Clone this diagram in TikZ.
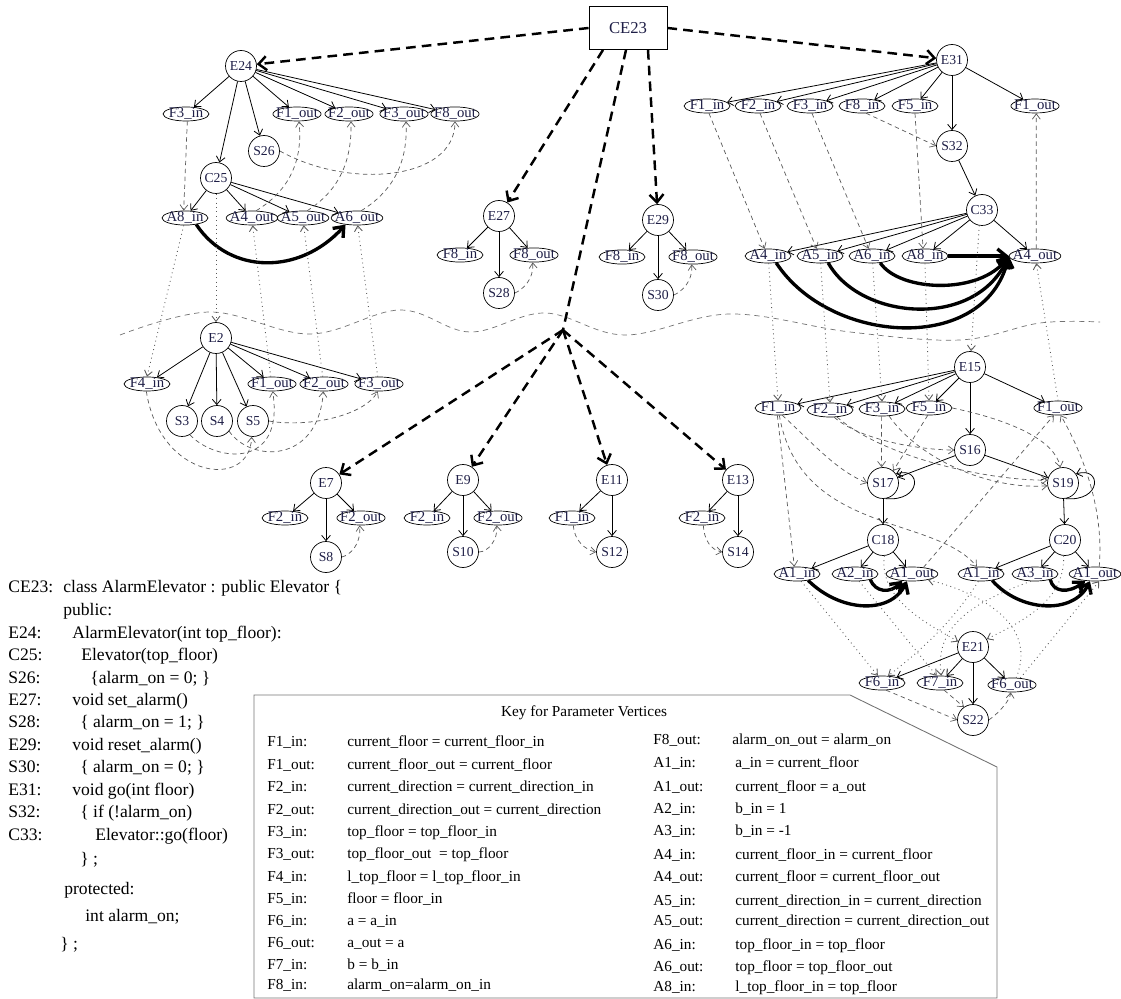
\documentclass[tikz,border=0pt]{standalone}
\usepackage{fontspec}
\setmainfont{Liberation Serif}
\tikzset{>=latex}
\usetikzlibrary{arrows.meta,shapes.geometric}
\definecolor{ink}{RGB}{30,30,70}

\begin{document}
\begin{tikzpicture}[x=0.02cm, y=-0.02cm,
  vert/.style={circle, draw, line width=0.4pt, minimum size=0.62cm, inner sep=0pt, text=ink, font=\fontsize{7.8}{8}\selectfont},
  parm/.style={ellipse, draw, line width=0.4pt, minimum width=0.92cm, minimum height=0.28cm, inner xsep=-2.2pt, inner ysep=-0.5pt, text=ink, font=\fontsize{8.4}{8.4}\selectfont},
  ctrlarc/.style={line width=0.45pt, -{Straight Barb[length=3pt,width=5pt]}},
  flowarc/.style={line width=0.4pt, dash pattern=on 2.5pt off 2pt, black!65, -{Straight Barb[length=3pt,width=4.5pt]}},
  callarc/.style={line width=0.5pt, dotted, black!65, -{Straight Barb[length=3pt,width=4.5pt]}},
  summarc/.style={line width=1.9pt, -{Straight Barb[length=5pt,width=8pt]}},
  membarc/.style={line width=1.4pt, dash pattern=on 5.5pt off 3.5pt, -{Straight Barb[length=4.5pt,width=8pt]}},
  codeline/.style={anchor=base west, inner sep=0pt, font=\fontsize{10}{10}\selectfont},
  keytxt/.style={anchor=base west, inner sep=0pt, font=\fontsize{8.7}{8.7}\selectfont}]

% Zone de dessin en pixels de l'image (y vers le bas).
% Drawing area in image pixels (y pointing down).
\useasboundingbox (0,0) rectangle (1121,999);

% Ligne ondulée / wavy separation line
\draw[line width=0.4pt, black!55, dash pattern=on 3pt off 2.5pt] plot[smooth, tension=0.6] coordinates {(120,335) (210,312) (310,334) (400,310) (470,332) (545,313) (625,335) (730,314) (850,332) (960,340) (1040,323) (1100,322)};

% Sommet de classe / class entry vertex
\node[draw, line width=0.5pt, minimum width=1.56cm, minimum height=0.86cm, text=ink, font=\fontsize{9.5}{9.5}\selectfont] (ce23) at (628,28) {CE23};
\coordinate (fork) at (563,330);

% Constructeur E24 / constructor E24
\node[vert] (e24) at (241,66) {E24};
\node[parm] (e24f3in) at (186,114) {F3\_in};
\node[parm] (e24f1out) at (297,114) {F1\_out};
\node[parm] (e24f2out) at (349,114) {F2\_out};
\node[parm] (e24f3out) at (404,114) {F3\_out};
\node[parm] (e24f8out) at (455,114) {F8\_out};
\node[vert] (s26) at (264,151) {S26};
\node[vert] (c25) at (216,178) {C25};
\node[parm] (c25a8in) at (185,218) {A8\_in};
\node[parm] (c25a4out) at (252,218) {A4\_out};
\node[parm] (c25a5out) at (303,218) {A5\_out};
\node[parm] (c25a6out) at (357,218) {A6\_out};

\draw[ctrlarc] (e24) -- (e24f3in);
\draw[ctrlarc] (e24) -- (c25);
\draw[ctrlarc] (e24) -- (s26);
\draw[ctrlarc] (e24) -- (e24f1out);
\draw[ctrlarc] (e24) -- (e24f2out);
\draw[ctrlarc] (e24) -- (e24f3out);
\draw[ctrlarc] (e24) -- (e24f8out);
\draw[ctrlarc] (c25) -- (c25a8in);
\draw[ctrlarc] (c25) -- (c25a4out);
\draw[ctrlarc] (c25) -- (c25a5out);
\draw[ctrlarc] (c25) -- (c25a6out);
\draw[flowarc] (e24f3in.-80) -- (c25a8in.100);
\draw[flowarc] (s26.east) .. controls (350,190) and (455,180) .. (e24f8out.south);
\draw[flowarc] (c25a4out.60) .. controls (290,190) and (303,160) .. (e24f1out.-75);
\draw[flowarc] (c25a5out.60) .. controls (340,190) and (352,160) .. (e24f2out.-75);
\draw[flowarc] (c25a6out.60) .. controls (395,190) and (408,160) .. (e24f3out.-75);
\draw[summarc] (c25a8in.-30) .. controls (230,275) and (300,275) .. (c25a6out.-150);

% Procédure E2 / procedure E2
\node[vert] (e2) at (216,338) {E2};
\node[parm] (e2f4in) at (147,384) {F4\_in};
\node[parm] (e2f1out) at (272,384) {F1\_out};
\node[parm] (e2f2out) at (324,384) {F2\_out};
\node[parm] (e2f3out) at (379,384) {F3\_out};
\node[vert] (s3) at (182,421) {S3};
\node[vert] (s4) at (217,421) {S4};
\node[vert] (s5) at (253,421) {S5};

\draw[ctrlarc] (e2) -- (e2f4in);
\draw[ctrlarc] (e2) -- (s3);
\draw[ctrlarc] (e2) -- (s4);
\draw[ctrlarc] (e2) -- (s5);
\draw[ctrlarc] (e2) -- (e2f1out);
\draw[ctrlarc] (e2) -- (e2f2out);
\draw[ctrlarc] (e2) -- (e2f3out);
\draw[flowarc] (s5.east) .. controls (310,428) and (365,415) .. (e2f3out.-100);
\draw[flowarc] (s3.-60) .. controls (215,462) and (285,470) .. (e2f1out.-85);
\draw[flowarc] (s4.-40) .. controls (250,462) and (318,465) .. (e2f2out.-95);
\draw[flowarc] (e2f4in.-95) .. controls (160,480) and (250,490) .. (s5.-95);

\draw[callarc] (c25) -- (e2);
\draw[callarc] (c25a8in.-100) -- (e2f4in.north);
\draw[callarc] (e2f1out.100) -- (c25a4out.-85);
\draw[callarc] (e2f2out.100) -- (c25a5out.-85);
\draw[callarc] (e2f3out.100) -- (c25a6out.-85);

% Méthodes E27 et E29 / methods E27 and E29
\node[vert] (e27) at (499,216) {E27};
\node[parm] (e27f8in) at (460,255) {F8\_in};
\node[parm] (e27f8out) at (534,255) {F8\_out};
\node[vert] (s28) at (499,293) {S28};
\draw[ctrlarc] (e27) -- (e27f8in);
\draw[ctrlarc] (e27) -- (s28);
\draw[ctrlarc] (e27) -- (e27f8out);
\draw[flowarc] (s28.east) .. controls (522,290) and (534,280) .. (e27f8out.-100);

\node[vert] (e29) at (658,220) {E29};
\node[parm] (e29f8in) at (622,257) {F8\_in};
\node[parm] (e29f8out) at (693,257) {F8\_out};
\node[vert] (s30) at (658,295) {S30};
\draw[ctrlarc] (e29) -- (e29f8in);
\draw[ctrlarc] (e29) -- (s30);
\draw[ctrlarc] (e29) -- (e29f8out);
\draw[flowarc] (s30.east) .. controls (681,292) and (693,282) .. (e29f8out.-100);

% Méthodes héritées / inherited methods
\node[vert] (e7) at (326,483) {E7};
\node[parm] (e7f2in) at (285,518) {F2\_in};
\node[parm] (e7f2out) at (361,518) {F2\_out};
\node[vert] (s8) at (326,557) {S8};
\draw[ctrlarc] (e7) -- (e7f2in);
\draw[ctrlarc] (e7) -- (s8);
\draw[ctrlarc] (e7) -- (e7f2out);
\draw[flowarc] (s8.east) .. controls (350,555) and (361,545) .. (e7f2out.-100);

\node[vert] (e9) at (463,480) {E9};
\node[parm] (e9f2in) at (427,518) {F2\_in};
\node[parm] (e9f2out) at (498,518) {F2\_out};
\node[vert] (s10) at (463,552) {S10};
\draw[ctrlarc] (e9) -- (e9f2in);
\draw[ctrlarc] (e9) -- (s10);
\draw[ctrlarc] (e9) -- (e9f2out);
\draw[flowarc] (s10.east) .. controls (488,552) and (498,540) .. (e9f2out.-100);

\node[vert] (e11) at (612,480) {E11};
\node[parm] (e11f1in) at (572,518) {F1\_in};
\node[vert] (s12) at (612,552) {S12};
\draw[ctrlarc] (e11) -- (e11f1in);
\draw[ctrlarc] (e11) -- (s12);
\draw[flowarc] (e11f1in.-80) .. controls (574,540) and (585,550) .. (s12.west);

\node[vert] (e13) at (738,480) {E13};
\node[parm] (e13f2in) at (702,518) {F2\_in};
\node[vert] (s14) at (738,552) {S14};
\draw[ctrlarc] (e13) -- (e13f2in);
\draw[ctrlarc] (e13) -- (s14);
\draw[flowarc] (e13f2in.-80) .. controls (704,540) and (711,550) .. (s14.west);

% Méthode go E31 / method go E31
\node[vert] (e31) at (952,60) {E31};
\node[parm] (e31f1in) at (707,106) {F1\_in};
\node[parm] (e31f2in) at (758,106) {F2\_in};
\node[parm] (e31f3in) at (810,106) {F3\_in};
\node[parm] (e31f8in) at (862,106) {F8\_in};
\node[parm] (e31f5in) at (915,106) {F5\_in};
\node[parm] (e31f1out) at (1035,106) {F1\_out};
\node[vert] (s32) at (952,146) {S32};
\node[vert] (c33) at (982,210) {C33};
\node[parm] (c33a4in) at (768,256) {A4\_in};
\node[parm] (c33a5in) at (820,256) {A5\_in};
\node[parm] (c33a6in) at (872,256) {A6\_in};
\node[parm] (c33a8in) at (925,256) {A8\_in};
\node[parm] (c33a4out) at (1035,256) {A4\_out};

\draw[ctrlarc] (e31) -- (e31f1in);
\draw[ctrlarc] (e31) -- (e31f2in);
\draw[ctrlarc] (e31) -- (e31f3in);
\draw[ctrlarc] (e31) -- (e31f8in);
\draw[ctrlarc] (e31) -- (e31f5in);
\draw[ctrlarc] (e31) -- (s32);
\draw[ctrlarc] (e31) -- (e31f1out);
\draw[ctrlarc] (s32) -- (c33);
\draw[ctrlarc] (c33) -- (c33a4in);
\draw[ctrlarc] (c33) -- (c33a5in);
\draw[ctrlarc] (c33) -- (c33a6in);
\draw[ctrlarc] (c33) -- (c33a8in);
\draw[ctrlarc] (c33) -- (c33a4out);
\draw[flowarc] (e31f1in.-75) -- (c33a4in.115);
\draw[flowarc] (e31f2in.-75) -- (c33a5in.115);
\draw[flowarc] (e31f3in.-75) -- (c33a6in.115);
\draw[flowarc] (e31f5in.south) -- (c33a8in.105);
\draw[flowarc] (e31f8in.-60) -- (s32.west);
\draw[flowarc] (c33a4out.80) -- (e31f1out.-80);
\draw[summarc] (c33a8in.east) -- (c33a4out.west);
\draw[summarc] (c33a6in.-40) .. controls (900,292) and (980,295) .. (c33a4out.west);
\draw[summarc] (c33a5in.-40) .. controls (860,320) and (975,330) .. (c33a4out.west);
\draw[summarc] (c33a4in.-40) .. controls (830,345) and (985,355) .. (c33a4out.west);

% Procédure Elevator::go E15 / procedure Elevator::go E15
\node[vert] (e15) at (970,367) {E15};
\node[parm] (e15f1in) at (778,408) {F1\_in};
\node[parm] (e15f2in) at (830,410) {F2\_in};
\node[parm] (e15f3in) at (882,409) {F3\_in};
\node[parm] (e15f5in) at (929,408) {F5\_in};
\node[parm] (e15f1out) at (1058,408) {F1\_out};
\node[vert] (s16) at (970,450) {S16};
\node[vert] (s17) at (883,483) {S17};
\node[vert] (s19) at (1063,483) {S19};
\node[vert] (c18) at (883,540) {C18};
\node[vert] (c20) at (1065,540) {C20};
\node[parm] (c18a1in) at (797,574) {A1\_in};
\node[parm] (c18a2in) at (855,574) {A2\_in};
\node[parm] (c18a1out) at (912,574) {A1\_out};
\node[parm] (c20a1in) at (981,574) {A1\_in};
\node[parm] (c20a3in) at (1035,574) {A3\_in};
\node[parm] (c20a1out) at (1095,574) {A1\_out};

\draw[ctrlarc] (e15) -- (e15f1in);
\draw[ctrlarc] (e15) -- (e15f2in);
\draw[ctrlarc] (e15) -- (e15f3in);
\draw[ctrlarc] (e15) -- (e15f5in);
\draw[ctrlarc] (e15) -- (s16);
\draw[ctrlarc] (e15) -- (e15f1out);
\draw[ctrlarc] (s16) -- (s17);
\draw[ctrlarc] (s16) -- (s19);
\draw[ctrlarc] (s17.-80) .. controls (922,502) and (922,466) .. (s17.35);
\draw[ctrlarc] (s19.-80) .. controls (1102,502) and (1102,466) .. (s19.35);
\draw[ctrlarc] (s17) -- (c18);
\draw[ctrlarc] (s19) -- (c20);
\draw[ctrlarc] (c18) -- (c18a1in);
\draw[ctrlarc] (c18) -- (c18a2in);
\draw[ctrlarc] (c18) -- (c18a1out);
\draw[ctrlarc] (c20) -- (c20a1in);
\draw[ctrlarc] (c20) -- (c20a3in);
\draw[ctrlarc] (c20) -- (c20a1out);
\draw[flowarc] (e15f1in.-95) -- (c18a1in.110);
\draw[flowarc] (e15f1in.-60) .. controls (810,440) and (835,470) .. (s17.west);
\draw[flowarc] (e15f1in.-80) .. controls (800,535) and (935,515) .. (c20a1in.120);
\draw[flowarc] (e15f2in.-60) .. controls (860,440) and (920,450) .. (s16.west);
\draw[flowarc] (e15f2in.-45) .. controls (880,455) and (980,480) .. (s19.170);
\draw[flowarc] (e15f3in.-95) -- (s17.95);
\draw[flowarc] (e15f3in.-45) .. controls (920,460) and (990,490) .. (s19.190);
\draw[flowarc] (e15f5in.-100) -- (s17.50);
\draw[flowarc] (e15f5in.east) .. controls (1010,420) and (1055,440) .. (s19.100);
\draw[flowarc] (c18a1out.30) -- (e15f1out.-120);
\draw[flowarc] (c20a1out.60) .. controls (1105,500) and (1075,440) .. (e15f1out.-70);
\draw[summarc] (c18a1in.-30) .. controls (840,612) and (890,615) .. (c18a1out.-125);
\draw[summarc] (c18a2in.-20) .. controls (875,592) and (890,594) .. (c18a1out.-145);
\draw[summarc] (c20a1in.-30) .. controls (1020,612) and (1073,615) .. (c20a1out.-125);
\draw[summarc] (c20a3in.-20) .. controls (1053,592) and (1068,594) .. (c20a1out.-145);

% Liens entre les deux / links across
\draw[callarc] (c33.-100) -- (e15);
\draw[callarc] (c33a4in.-85) -- (e15f1in.north);
\draw[callarc] (c33a5in.-85) -- (e15f2in.north);
\draw[callarc] (c33a6in.-85) -- (e15f3in.north);
\draw[callarc] (c33a8in.-90) -- (e15f5in.north);
\draw[callarc] (e15f1out.north) -- (c33a4out.-80);

% Procédure E21 / procedure E21
\node[vert] (e21) at (973,647) {E21};
\node[parm] (e21f6in) at (882,683) {F6\_in};
\node[parm] (e21f7in) at (940,683) {F7\_in};
\node[parm] (e21f6out) at (1012,685) {F6\_out};
\node[vert] (s22) at (973,720) {S22};
\draw[ctrlarc] (e21) -- (e21f6in);
\draw[ctrlarc] (e21) -- (e21f7in);
\draw[ctrlarc] (e21) -- (s22);
\draw[ctrlarc] (e21) -- (e21f6out);
\draw[flowarc] (e21f6in.-60) -- (s22.west);
\draw[flowarc] (e21f7in.-60) -- (s22.125);
\draw[flowarc] (s22.east) .. controls (1000,712) and (1010,700) .. (e21f6out.-100);
\draw[callarc] (c18.-85) .. controls (878,600) and (930,625) .. (e21.160);
\draw[callarc] (c20.-95) .. controls (1065,600) and (1025,620) .. (e21.30);
\draw[callarc] (c18a1in.-60) -- (e21f6in.120);
\draw[callarc] (c20a1in.-110) .. controls (960,610) and (935,640) .. (e21f6in.50);
\draw[callarc] (c18a2in.-60) -- (e21f7in.115);
\draw[callarc] (c20a3in.-120) .. controls (965,605) and (935,630) .. (e21f7in.80);
\draw[callarc] (e21f6out.60) .. controls (1040,620) and (970,590) .. (c18a1out.-20);
\draw[callarc] (e21f6out.40) -- (c20a1out.-60);

% Arcs d'appartenance / membership arcs
\draw[membarc] (ce23.west) -- (e24);
\draw[membarc] (ce23.east) -- (e31);
\draw[membarc] ([xshift=-0.5cm]ce23.south) -- (e27);
\draw[membarc] ([xshift=0.4cm]ce23.south) -- (e29);
\draw[line width=1.4pt, dash pattern=on 5.5pt off 3.5pt] ([xshift=-0.04cm]ce23.south) -- (fork);
\draw[membarc] (fork) -- (e7);
\draw[membarc] (fork) -- (e9);
\draw[membarc] (fork) -- (e11);
\draw[membarc] (fork) -- (e13);

% Code source / source code
\node[codeline] (cl1) at (8,592) {CE23:};
\node[codeline] (ct1) at (63,592) {class AlarmElevator : public Elevator \{};
\node[codeline] (ct2) at (63,615) {public:};
\node[codeline] (cl3) at (8,638) {E24:};
\node[codeline] (ct3) at (72,638) {AlarmElevator(int top\_floor):};
\node[codeline] (cl4) at (8,660) {C25:};
\node[codeline] (ct4) at (81,660) {Elevator(top\_floor)};
\node[codeline] (cl5) at (8,683) {S26:};
\node[codeline] (ct5) at (90,683) {\{alarm\_on = 0; \}};
\node[codeline] (cl6) at (8,705) {E27:};
\node[codeline] (ct6) at (72,705) {void set\_alarm()};
\node[codeline] (cl7) at (8,727) {S28:};
\node[codeline] (ct7) at (80,727) {\{ alarm\_on = 1; \}};
\node[codeline] (cl8) at (8,750) {E29:};
\node[codeline] (ct8) at (72,750) {void reset\_alarm()};
\node[codeline] (cl9) at (8,772) {S30:};
\node[codeline] (ct9) at (80,772) {\{ alarm\_on = 0; \}};
\node[codeline] (cl10) at (8,795) {E31:};
\node[codeline] (ct10) at (72,795) {void go(int floor)};
\node[codeline] (cl11) at (8,817) {S32:};
\node[codeline] (ct11) at (80,817) {\{ if (!alarm\_on)};
\node[codeline] (cl12) at (8,840) {C33:};
\node[codeline] (ct12) at (95,840) {Elevator::go(floor)};
\node[codeline] (ct13) at (80,864) {\} ;};
\node[codeline] (ct14) at (64,894) {protected:};
\node[codeline] (ct15) at (85,921) {int alarm\_on;};
\node[codeline] (ct16) at (60,949) {\} ;};

% Légende / key
\draw[line width=0.5pt, black!55] (254,998) -- (254,695) -- (850,695) -- (997,767) -- (997,998) -- cycle;
\node[keytxt, anchor=base] (ktitle) at (584,716) {Key for Parameter Vertices};
\node[keytxt] (kl1) at (267,746) {F1\_in:};
\node[keytxt] (kv1) at (347,746) {current\_floor = current\_floor\_in};
\node[keytxt] (kl2) at (267,769) {F1\_out:};
\node[keytxt] (kv2) at (347,769) {current\_floor\_out = current\_floor};
\node[keytxt] (kl3) at (267,791) {F2\_in:};
\node[keytxt] (kv3) at (347,791) {current\_direction = current\_direction\_in};
\node[keytxt] (kl4) at (267,814) {F2\_out:};
\node[keytxt] (kv4) at (347,814) {current\_direction\_out = current\_direction};
\node[keytxt] (kl5) at (267,836) {F3\_in:};
\node[keytxt] (kv5) at (347,836) {top\_floor = top\_floor\_in};
\node[keytxt] (kl6) at (267,858) {F3\_out:};
\node[keytxt] (kv6) at (347,858) {top\_floor\_out \ = top\_floor};
\node[keytxt] (kl7) at (267,881) {F4\_in:};
\node[keytxt] (kv7) at (347,881) {l\_top\_floor = l\_top\_floor\_in};
\node[keytxt] (kl8) at (267,903) {F5\_in:};
\node[keytxt] (kv8) at (347,903) {floor = floor\_in};
\node[keytxt] (kl9) at (267,925) {F6\_in:};
\node[keytxt] (kv9) at (347,925) {a = a\_in};
\node[keytxt] (kl10) at (267,947) {F6\_out:};
\node[keytxt] (kv10) at (347,947) {a\_out = a};
\node[keytxt] (kl11) at (267,969) {F7\_in:};
\node[keytxt] (kv11) at (347,969) {b = b\_in};
\node[keytxt] (kl12) at (267,989) {F8\_in:};
\node[keytxt] (kv12) at (347,989) {alarm\_on=alarm\_on\_in};
\node[keytxt] (kr1) at (653,744) {F8\_out:};
\node[keytxt] (kw1) at (732,744) {alarm\_on\_out = alarm\_on};
\node[keytxt] (kr2) at (653,767) {A1\_in:};
\node[keytxt] (kw2) at (735,767) {a\_in = current\_floor};
\node[keytxt] (kr3) at (653,791) {A1\_out:};
\node[keytxt] (kw3) at (735,791) {current\_floor = a\_out};
\node[keytxt] (kr4) at (653,813) {A2\_in:};
\node[keytxt] (kw4) at (735,813) {b\_in = 1};
\node[keytxt] (kr5) at (653,835) {A3\_in:};
\node[keytxt] (kw5) at (735,835) {b\_in = -1};
\node[keytxt] (kr6) at (653,859) {A4\_in:};
\node[keytxt] (kw6) at (735,859) {current\_floor\_in = current\_floor};
\node[keytxt] (kr7) at (653,881) {A4\_out:};
\node[keytxt] (kw7) at (735,881) {current\_floor = current\_floor\_out};
\node[keytxt] (kr8) at (653,905) {A5\_in:};
\node[keytxt] (kw8) at (735,905) {current\_direction\_in = current\_direction};
\node[keytxt] (kr9) at (653,925) {A5\_out:};
\node[keytxt] (kw9) at (735,925) {current\_direction = current\_direction\_out};
\node[keytxt] (kr10) at (653,949) {A6\_in:};
\node[keytxt] (kw10) at (735,949) {top\_floor\_in = top\_floor};
\node[keytxt] (kr11) at (653,971) {A6\_out:};
\node[keytxt] (kw11) at (735,971) {top\_floor = top\_floor\_out};
\node[keytxt] (kr12) at (653,991) {A8\_in:};
\node[keytxt] (kw12) at (735,991) {l\_top\_floor\_in = top\_floor};

\end{tikzpicture}
\end{document}
